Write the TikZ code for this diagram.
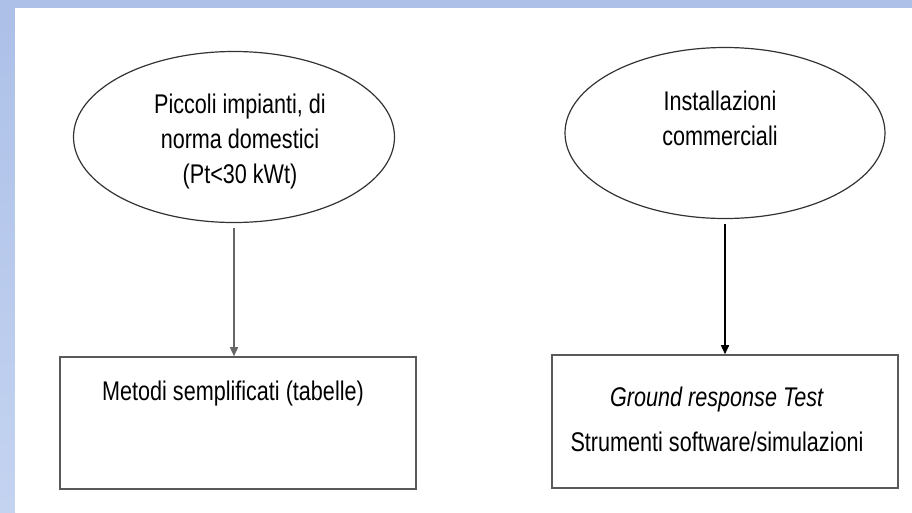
\documentclass[tikz,border=0pt]{standalone}
\usepackage{fontspec}
\setmainfont{Liberation Sans}[FakeStretch=0.8]
\usepackage{tikz}
\usetikzlibrary{shapes.geometric, arrows.meta}
\definecolor{bordo}{RGB}{172,192,232}
\definecolor{bordochiaro}{RGB}{196,211,240}
\tikzset{
  ovale/.style = {ellipse, draw=black!80, line width=1.2pt, inner sep=0pt,
                  minimum width=321pt, minimum height=171pt},
  scatola/.style = {rectangle, draw=black!65, line width=1.6pt, inner sep=0pt},
  testo/.style = {align=center, inner sep=0pt,
                  font=\fontsize{27}{35}\selectfont},
  freccia/.style = {-{Triangle[length=9pt,width=8pt]}, line width=1.6pt,
                    shorten <=5pt}
}

\begin{document}
\begin{tikzpicture}[x=1pt, y=-1pt]
\useasboundingbox (0,0) rectangle (912,512);
\shade[top color=bordo, bottom color=bordochiaro] (0,0) rectangle (15,512);
\fill[bordo] (0,0) rectangle (912,8);
\fill[white] (15,8) rectangle (912,512);

\node[ovale] (piccoli) at (234,137) {};
\node[ovale, minimum width=320pt] (commerciali) at (725,133) {};
\node[scatola, minimum width=356pt, minimum height=132pt] (metodi) at (238,423) {};
\node[scatola, minimum width=346pt, minimum height=133pt] (strumenti) at (725,421.5) {};

\node[testo] (piccoliTxt) at (240,142) {Piccoli impianti, di\\norma domestici\\(Pt<30 kWt)};
\node[testo] (commercialiTxt) at (720,118) {Installazioni\\commerciali};
\node[testo] (metodiTxt) at (233,394) {Metodi semplificati (tabelle)};
\node[testo] (strumentiTxt) at (717,419) {\textit{Ground response Test}\\[10pt]Strumenti software/simulazioni};

\draw[freccia, draw=black!60] (piccoli.south) -- (piccoli.south |- metodi.north);
\draw[freccia] (commerciali.south) -- (commerciali.south |- strumenti.north);
\end{tikzpicture}
\end{document}
